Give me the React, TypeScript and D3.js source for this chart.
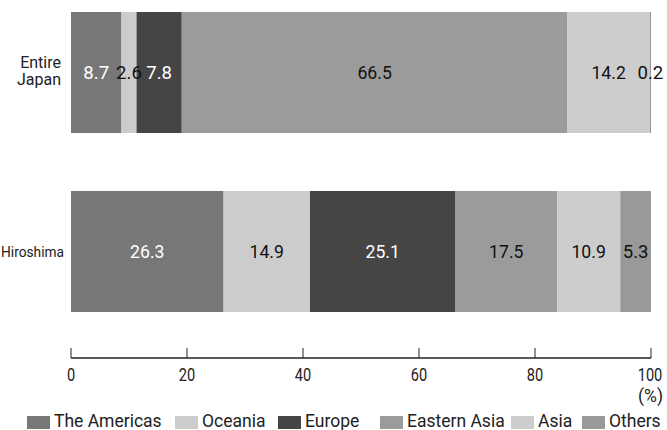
import React from "react";
import * as d3 from "d3";

const categories = ["Entire Japan", "Hiroshima"];
const regions = ["The Americas", "Oceania", "Europe", "Eastern Asia", "Asia", "Others"];
const japanValues = [8.7, 2.6, 7.8, 66.5, 14.2, 0.2];
const hiroshimaValues = [26.3, 14.9, 25.1, 17.5, 10.9, 5.3];
const colors = ["#777777", "#cccccc", "#454545", "#9b9b9b", "#cdcdcd", "#999999"];
const labelColors = ["#ffffff", "#111111", "#ffffff", "#111111", "#111111", "#111111"];
const ticks = [0, 20, 40, 60, 80, 100];

const W = 667;
const H = 430;

export default function App() {
  const x = d3.scaleLinear().domain([0, 100]).range([71, 651]);
  const y = d3.scaleBand().domain(categories).range([12, 312]).paddingInner(0.324);
  const series = [japanValues, hiroshimaValues];
  const font = "'Roboto', 'Liberation Sans', sans-serif";
  const legendX = [27, 175, 278, 380, 511, 582];
  const axisY = 358;

  return (
    <svg width={W} height={H} style={{ position: "absolute", left: 0, top: 0, background: "#fff" }}>
      {categories.map((c, ci) => {
        const vals = series[ci];
        const starts = vals.map((_, i) => d3.sum(vals.slice(0, i)));
        const y0 = y(c)!;
        const bh = y.bandwidth();
        return (
          <g key={c}>
            {vals.map((v, i) => (
              <rect key={i} x={x(starts[i])} y={y0} width={x(starts[i] + v) - x(starts[i])} height={bh} fill={colors[i]} />
            ))}
            {vals.map((v, i) => {
              const s = v.toFixed(1);
              return (
                <text key={"t" + i} x={x(starts[i] + v / 2)} y={y0 + bh / 2} dy="0.36em" textAnchor="middle"
                  fontSize={18} fontFamily={font} fill={labelColors[i]}
                  textLength={s.length * 8.6} lengthAdjust="spacingAndGlyphs">
                  {s}
                </text>
              );
            })}
          </g>
        );
      })}
      <text textAnchor="end" fontSize={16} fontFamily={font} fill="#222">
        <tspan x={61} y={68}>Entire</tspan>
        <tspan x={61} y={84.5}>Japan</tspan>
      </text>
      <text x={64} y={y("Hiroshima")! + y.bandwidth() / 2} dy="0.36em" textAnchor="end" fontSize={14.5}
        fontFamily={font} fill="#222" textLength={63} lengthAdjust="spacingAndGlyphs">
        Hiroshima
      </text>
      <line x1={x(0)} x2={x(100)} y1={axisY} y2={axisY} stroke="#222" strokeWidth={1.3} />
      {ticks.map((t) => {
        const s = String(t);
        return (
          <g key={t}>
            <line x1={x(t)} x2={x(t)} y1={axisY} y2={axisY - 10} stroke="#222" strokeWidth={1} />
            <text x={t === 100 ? x(t) - 1 : x(t)} y={381} textAnchor="middle" fontSize={18} fontFamily={font} fill="#222"
              textLength={s.length * 8.2} lengthAdjust="spacingAndGlyphs">
              {s}
            </text>
          </g>
        );
      })}
      <text x={663} y={402} textAnchor="end" fontSize={17.5} fontFamily={font} fill="#222">(%)</text>
      {regions.map((r, i) => (
        <g key={r}>
          <rect x={legendX[i]} y={416} width={23} height={13} fill={colors[i]} />
          <text x={legendX[i] + 27} y={427} fontSize={17.5} fontFamily={font} fill="#222">{r}</text>
        </g>
      ))}
    </svg>
  );
}
